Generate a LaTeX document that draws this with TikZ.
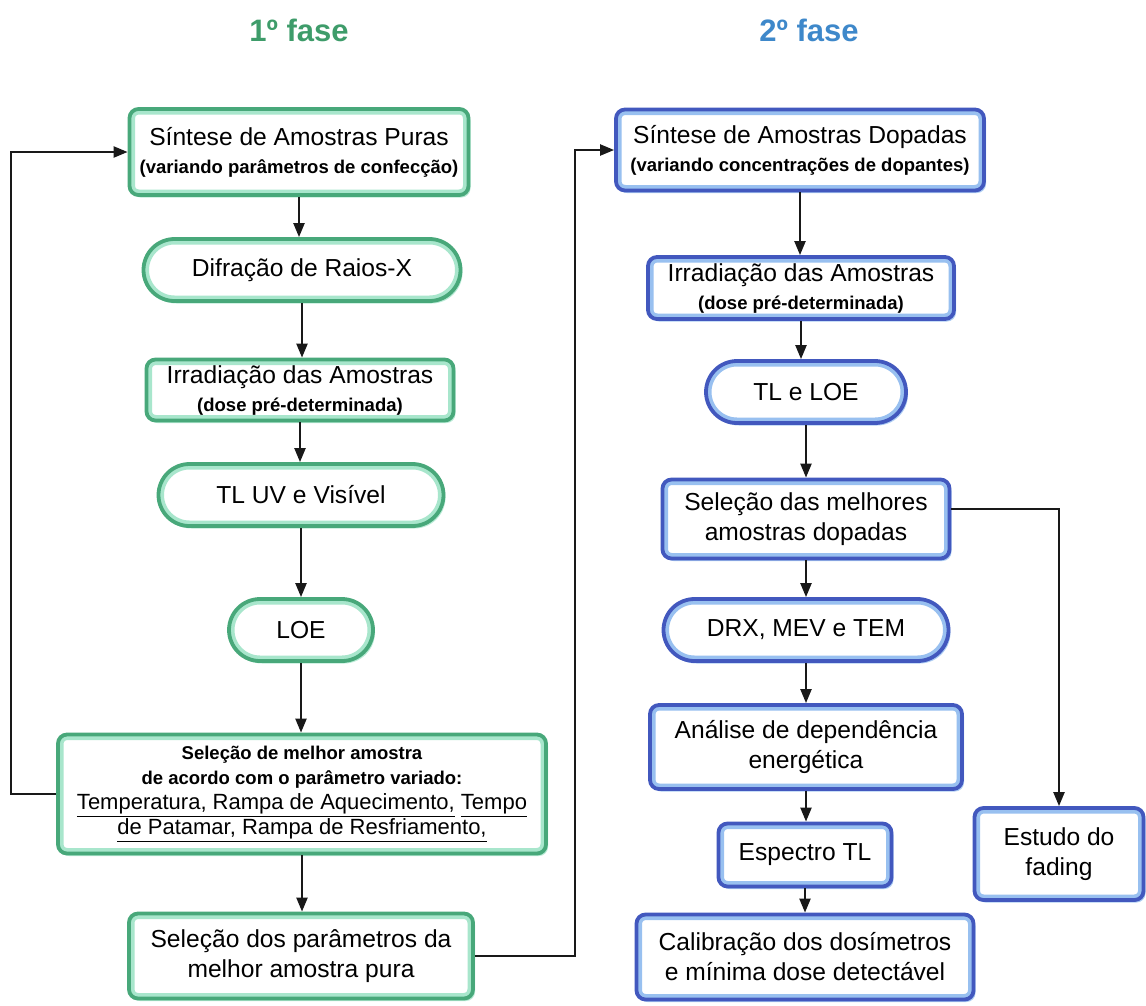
\documentclass[tikz,border=0pt]{standalone}
\usepackage{fontspec}
\setmainfont{Liberation Sans}
\usetikzlibrary{arrows.meta,shadows}
\definecolor{gdark}{RGB}{72,168,122}
\definecolor{glight}{RGB}{168,230,204}
\definecolor{bdark}{RGB}{66,88,190}
\definecolor{blight}{RGB}{152,192,240}
\definecolor{gtitle}{RGB}{62,156,106}
\definecolor{btitle}{RGB}{62,136,202}
\newcommand{\bigtxt}{\fontsize{24.6}{30}\selectfont}
\newcommand{\smalltxt}{\fontsize{18.5}{24}\selectfont\bfseries}
\newcommand{\midtxt}{\fontsize{22}{25}\selectfont}
\newcommand{\titletxt}{\fontsize{31}{36}\selectfont\bfseries}

\begin{document}
\begin{tikzpicture}[x=1pt,y=-1pt,
  framed/.style n args={3}{rectangle, rounded corners=#3, fill=white, draw=#1,
    line width=3.8pt, align=center, inner sep=2pt, font=\bigtxt,
    drop shadow={shadow xshift=2pt, shadow yshift=-2.5pt, fill=#2, opacity=.8},
    path picture={\draw[#2, line width=11pt, rounded corners=#3]
      (path picture bounding box.south west) rectangle (path picture bounding box.north east);}},
  gbox/.style={framed={gdark}{glight}{9pt}},
  gpill/.style={framed={gdark}{glight}{31pt}, minimum height=62pt},
  bluebox/.style={framed={bdark}{blight}{9pt}},
  bpill/.style={framed={bdark}{blight}{31pt}, minimum height=62pt},
  arr/.style={draw=black!90, line width=2.2pt, -{Triangle[length=14pt,width=11pt]}}]
\useasboundingbox (0,0) rectangle (1146,1005);

% titles
\node[font=\titletxt, text=gtitle] (t1) at (299,30) {1º fase};
\node[font=\titletxt, text=btitle] (t2) at (809,30) {2º fase};

% 1st phase
\node[gbox, minimum width=339pt, minimum height=86pt] (s1) at (299,152)
  {Síntese de Amostras Puras\\[-2pt] {\smalltxt (variando parâmetros de confecção)}};
\node[gpill, minimum width=317pt] (s2) at (302,270) {Difração de Raios-X};
\node[gbox, minimum width=307pt, minimum height=61pt] (s3) at (300,390)
  {Irradiação das Amostras\\[-2pt] {\smalltxt (dose pré-determinada)}};
\node[gpill, minimum width=285pt] (s4) at (301,495) {TL UV e Visível};
\node[gpill, minimum width=144pt] (s5) at (301,630) {LOE};
\node[gbox, minimum width=488pt, minimum height=119pt, font=\midtxt] (s6) at (302,794)
  {{\smalltxt Seleção de melhor amostra}\\
   {\smalltxt de acordo com o parâmetro variado:}\\
   \underline{Temperatura, Rampa de Aquecimento,} \underline{Tempo}\\
   \underline{de Patamar, Rampa de Resfriamento,}};
\node[gbox, minimum width=344pt, minimum height=85pt] (s7) at (301,956)
  {Seleção dos parâmetros da\\ melhor amostra pura};

% 2nd phase
\node[bluebox, minimum width=368pt, minimum height=81pt] (r1) at (800,150)
  {Síntese de Amostras Dopadas\\[-2pt] {\smalltxt (variando concentrações de dopantes)}};
\node[bluebox, minimum width=306pt, minimum height=62pt] (r2) at (801,288)
  {Irradiação das Amostras\\[-2pt] {\smalltxt (dose pré-determinada)}};
\node[bpill, minimum width=200pt] (r3) at (806,392) {TL e LOE};
\node[bluebox, minimum width=287pt, minimum height=79pt] (r4) at (806,519)
  {Seleção das melhores\\ amostras dopadas};
\node[bpill, minimum width=285pt] (r5) at (806,630) {DRX, MEV e TEM};
\node[bluebox, minimum width=312pt, minimum height=84pt] (r6) at (806,747)
  {Análise de dependência\\ energética};
\node[bluebox, minimum width=173pt, minimum height=63pt] (r7) at (805,855) {Espectro TL};
\node[bluebox, minimum width=337pt, minimum height=85pt] (r8) at (805,957)
  {Calibração dos dosímetros\\ e mínima dose detectável};
\node[bluebox, minimum width=169pt, minimum height=92pt] (r9) at (1059,854)
  {Estudo do\\ fading};

% connectors
\foreach \a/\b in {s1/s2,s2/s3,s3/s4,s4/s5,s5/s6,s6/s7,r1/r2,r2/r3,r3/r4,r4/r5,r5/r6,r6/r7,r7/r8}
  \draw[arr] (\a.south) -- (\a.south |- \b.north);
\draw[arr] (s6.west) -- ++(-45,0) |- (s1.west);
\draw[arr] (s7.east) -- ++(100,0) |- (r1.west);
\draw[arr] ([yshift=10pt]r4.east) -| (r9.north);
\end{tikzpicture}
\end{document}
